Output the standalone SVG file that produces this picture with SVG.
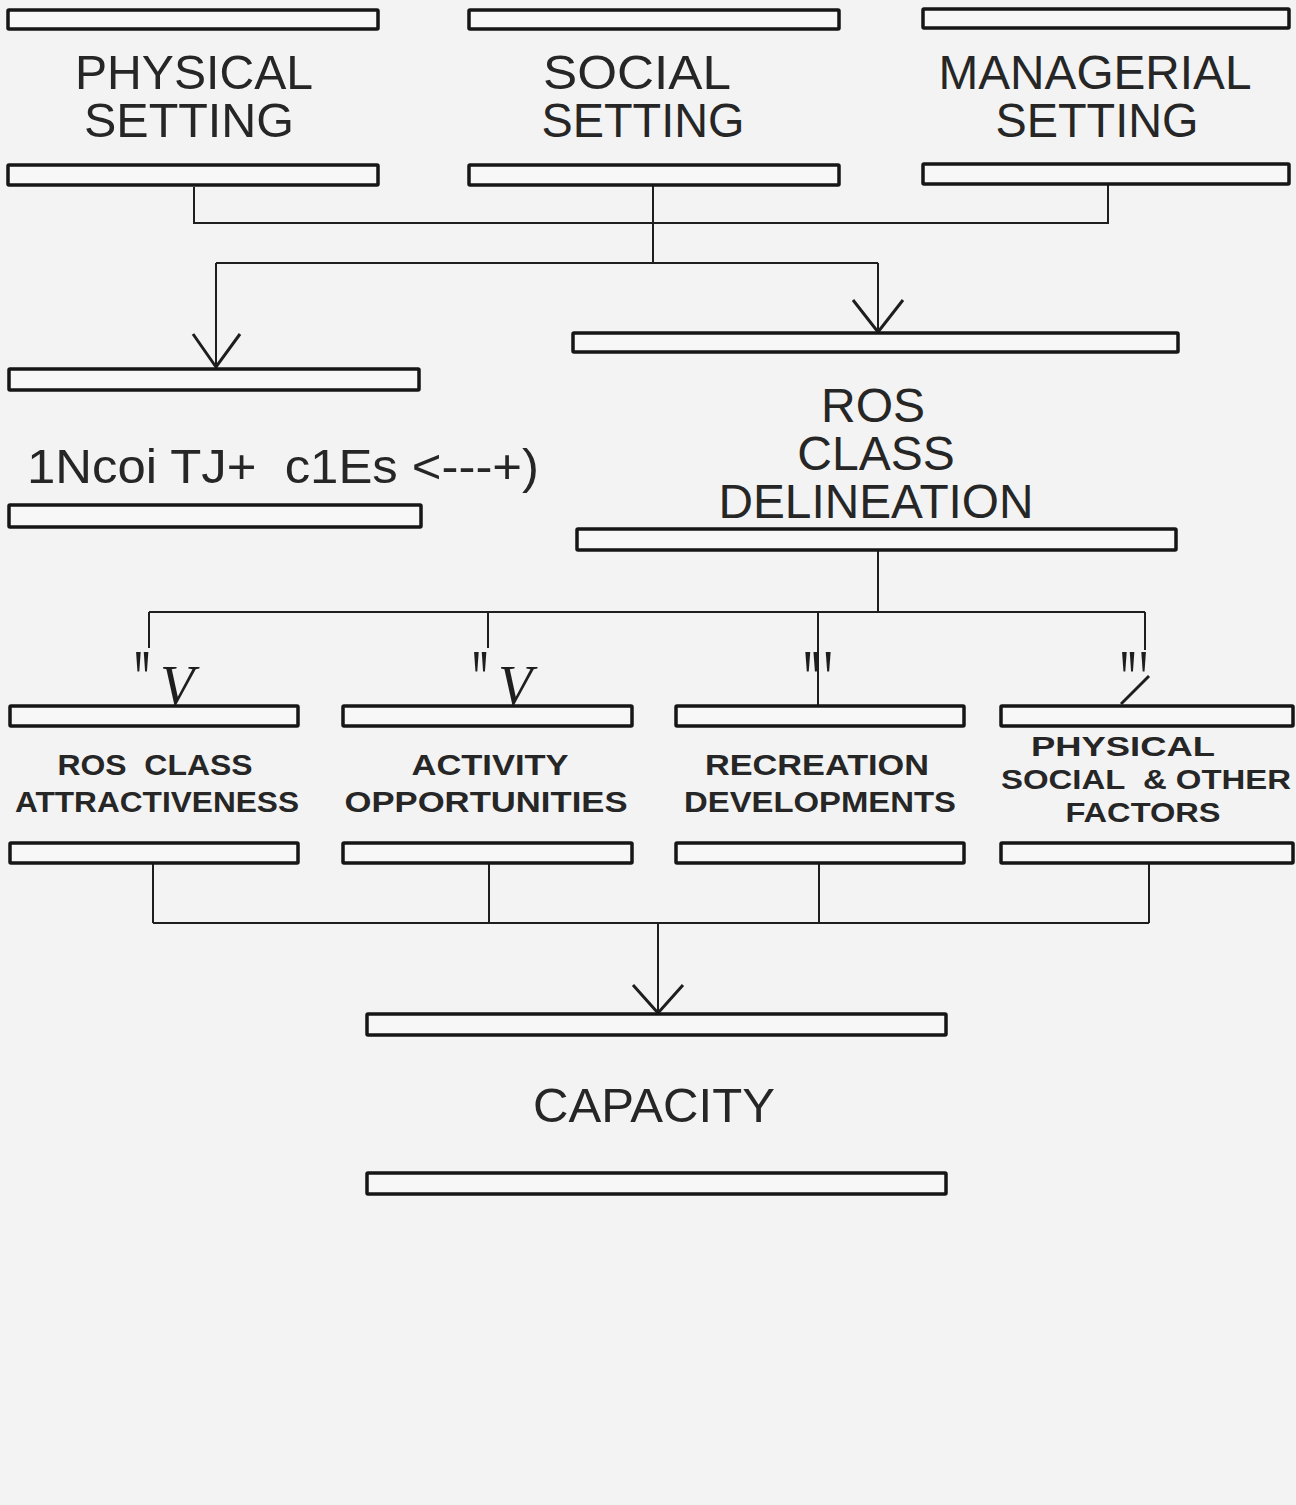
<svg xmlns="http://www.w3.org/2000/svg" width="1296" height="1505" viewBox="0 0 1296 1505">
<style>
.bar{fill:#f7f7f7;stroke:#161616;stroke-width:3.5;}
.big{font-family:"Liberation Sans",Arial,sans-serif;font-size:48px;fill:#262626;text-anchor:middle;}
.sm{font-family:"Liberation Sans",Arial,sans-serif;font-size:29px;font-weight:bold;fill:#262626;text-anchor:middle;}
.sm2{font-family:"Liberation Sans",Arial,sans-serif;font-size:27px;font-weight:bold;fill:#262626;text-anchor:middle;}
.ln{fill:none;stroke:#1e1e1e;stroke-width:2;}
.ah{fill:none;stroke:#1e1e1e;stroke-width:3;stroke-linejoin:miter;}
.mk{font-family:"Liberation Serif","Times New Roman",serif;fill:#1e1e1e;}
.tick{font-weight:bold;font-size:46px;}
.vee{font-style:italic;font-size:56px;}
</style>
<rect x="0" y="0" width="1296" height="1505" fill="#f3f3f3"/>

<g id="connectors">
  <path class="ln" d="M194 187 V223 H1108 V185"/>
  <path class="ln" d="M653 186 V263"/>
  <path class="ln" d="M216 263 H878"/>
  <path class="ln" d="M216 263 V366"/>
  <path class="ah" d="M193 334 L216 367 L240 334"/>
  <path class="ln" d="M878 263 V332"/>
  <path class="ah" d="M853 300 L878 332 L903 300"/>
  <path class="ln" d="M878 551 V612"/>
  <path class="ln" d="M149 612 H1145"/>
  <path class="ln" d="M149 612 V648"/>
  <path class="ln" d="M488 612 V648"/>
  <path class="ln" d="M818 612 V705"/>
  <path class="ln" d="M1145 612 V650"/>
  <path class="ah" d="M1149 676 L1121 704"/>
  <text class="mk tick" transform="translate(132,706) scale(0.8,1.8)">"</text>
  <text class="mk vee" x="160" y="705">V</text>
  <text class="mk tick" transform="translate(470,706) scale(0.8,1.8)">"</text>
  <text class="mk vee" x="498" y="705">V</text>
  <text class="mk tick" transform="translate(801,706) scale(0.85,1.8)">"'</text>
  <text class="mk tick" transform="translate(1118,706) scale(0.8,1.8)">"'</text>
  <path class="ln" d="M153 864 V923 M489 864 V923 M819 864 V923 M1149 864 V923"/>
  <path class="ln" d="M153 923 H1149"/>
  <path class="ln" d="M658 923 V1012"/>
  <path class="ah" d="M633 985 L658 1013 L683 985"/>
</g>

<g id="physical-setting">
  <rect class="bar" x="8" y="10" width="370" height="19" rx="1"/>
  <text class="big"><tspan x="194" y="89" textLength="238" lengthAdjust="spacingAndGlyphs">PHYSICAL</tspan><tspan x="189" y="137" textLength="210" lengthAdjust="spacingAndGlyphs">SETTING</tspan></text>
  <rect class="bar" x="8" y="165" width="370" height="20" rx="1"/>
</g>

<g id="social-setting">
  <rect class="bar" x="469" y="10" width="370" height="19" rx="1"/>
  <text class="big"><tspan x="637" y="89" textLength="188" lengthAdjust="spacingAndGlyphs">SOCIAL</tspan><tspan x="643" y="137" textLength="203" lengthAdjust="spacingAndGlyphs">SETTING</tspan></text>
  <rect class="bar" x="469" y="165" width="370" height="20" rx="1"/>
</g>

<g id="managerial-setting">
  <rect class="bar" x="923" y="9" width="366" height="19" rx="1"/>
  <text class="big"><tspan x="1095" y="89" textLength="313" lengthAdjust="spacingAndGlyphs">MANAGERIAL</tspan><tspan x="1097" y="137" textLength="203" lengthAdjust="spacingAndGlyphs">SETTING</tspan></text>
  <rect class="bar" x="923" y="164" width="366" height="20" rx="1"/>
</g>

<g id="garbled-node">
  <rect class="bar" x="9" y="369" width="410" height="21" rx="1"/>
  <text class="big" x="27" y="483" style="text-anchor:start;font-size:49px" textLength="512" lengthAdjust="spacingAndGlyphs" xml:space="preserve">1Ncoi TJ+  c1Es &lt;---+)</text>
  <rect class="bar" x="9" y="505" width="412" height="22" rx="1"/>
</g>

<g id="ros-class-delineation">
  <rect class="bar" x="573" y="333" width="605" height="19" rx="1"/>
  <text class="big"><tspan x="873" y="422">ROS</tspan><tspan x="876" y="470">CLASS</tspan><tspan x="876" y="518" textLength="315" lengthAdjust="spacingAndGlyphs">DELINEATION</tspan></text>
  <rect class="bar" x="577" y="529" width="599" height="21" rx="1"/>
</g>

<g id="ros-class-attractiveness">
  <rect class="bar" x="10" y="706" width="288" height="20" rx="1"/>
  <text class="sm" xml:space="preserve"><tspan x="155" y="775" textLength="195" lengthAdjust="spacingAndGlyphs">ROS  CLASS</tspan><tspan x="157" y="812" textLength="284" lengthAdjust="spacingAndGlyphs">ATTRACTIVENESS</tspan></text>
  <rect class="bar" x="10" y="843" width="288" height="20" rx="1"/>
</g>

<g id="activity-opportunities">
  <rect class="bar" x="343" y="706" width="289" height="20" rx="1"/>
  <text class="sm"><tspan x="490" y="775" textLength="157" lengthAdjust="spacingAndGlyphs">ACTIVITY</tspan><tspan x="486" y="812" textLength="283" lengthAdjust="spacingAndGlyphs">OPPORTUNITIES</tspan></text>
  <rect class="bar" x="343" y="843" width="289" height="20" rx="1"/>
</g>

<g id="recreation-developments">
  <rect class="bar" x="676" y="706" width="288" height="20" rx="1"/>
  <text class="sm"><tspan x="817" y="775" textLength="224" lengthAdjust="spacingAndGlyphs">RECREATION</tspan><tspan x="820" y="812" textLength="272" lengthAdjust="spacingAndGlyphs">DEVELOPMENTS</tspan></text>
  <rect class="bar" x="676" y="843" width="288" height="20" rx="1"/>
</g>

<g id="physical-social-other-factors">
  <rect class="bar" x="1001" y="706" width="292" height="20" rx="1"/>
  <text class="sm2" xml:space="preserve"><tspan x="1123" y="756" textLength="184" lengthAdjust="spacingAndGlyphs">PHYSICAL</tspan><tspan x="1146" y="789" textLength="290" lengthAdjust="spacingAndGlyphs">SOCIAL  &amp; OTHER</tspan><tspan x="1143" y="822" textLength="155" lengthAdjust="spacingAndGlyphs">FACTORS</tspan></text>
  <rect class="bar" x="1001" y="843" width="292" height="20" rx="1"/>
</g>

<g id="capacity">
  <rect class="bar" x="367" y="1014" width="579" height="21" rx="1"/>
  <text class="big" x="654" y="1122" style="font-size:49px" textLength="242" lengthAdjust="spacingAndGlyphs">CAPACITY</text>
  <rect class="bar" x="367" y="1173" width="579" height="21" rx="1"/>
</g>
</svg>
